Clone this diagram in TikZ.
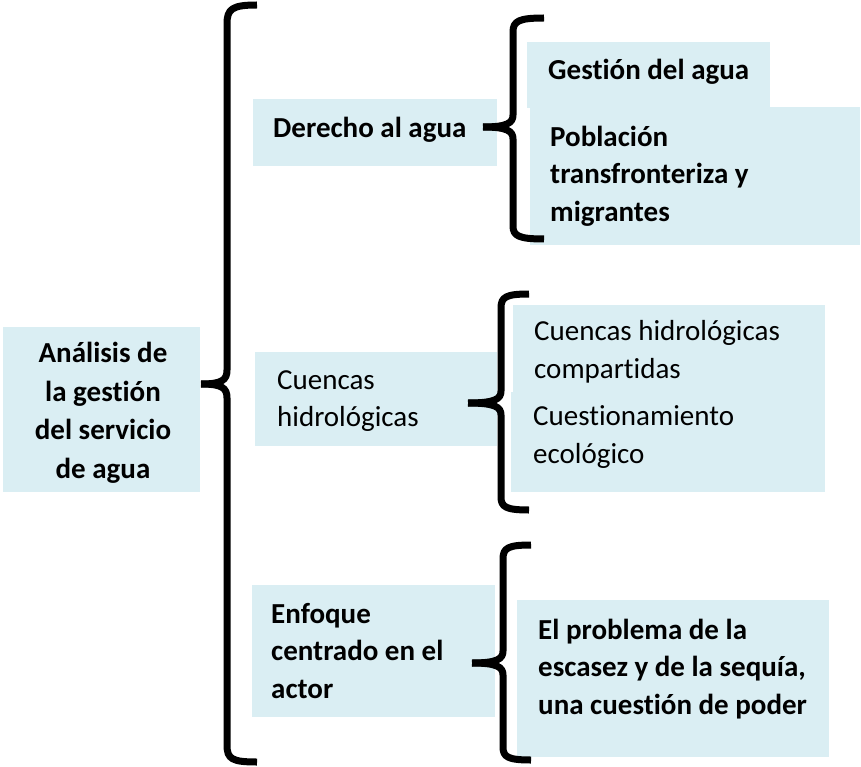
\documentclass[tikz,border=0pt]{standalone}
\usepackage{fontspec}
\setmainfont{Carlito}[Ligatures=NoCommon]
\definecolor{boxblue}{HTML}{DAEEF3}
\begin{document}
\begin{tikzpicture}[x=1pt,y=-1pt,
  txt/.style={anchor=west,align=left,inner sep=0pt,font=\fontsize{29}{37.5}\selectfont},
  txtb/.style={txt,font=\fontsize{29}{37.5}\selectfont\bfseries},
  brace/.style={draw=black,line width=7pt,line join=round}]
\useasboundingbox (0,0) rectangle (861,767);
% boxes
\fill[boxblue] (3,327) rectangle (200,492);
\fill[boxblue] (253,99) rectangle (497,166);
\fill[boxblue] (527,42) rectangle (770,108);
\fill[boxblue] (530,107) rectangle (860,245);
\fill[boxblue] (255,352) rectangle (497,446);
\fill[boxblue] (513,305) rectangle (825,405);
\fill[boxblue] (511,392) rectangle (825,492);
\fill[boxblue] (252,585) rectangle (495,717);
\fill[boxblue] (517,600) rectangle (829,757);
% texts
\node[txtb,anchor=center,align=center,font=\fontsize{29}{38.5}\selectfont\bfseries] (main) at (103,413) {Análisis de\\la gestión\\del servicio\\de agua};
\node[txtb] (der) at (273,130) {Derecho al agua};
\node[txtb] (ges) at (548,72) {Gestión del agua};
\node[txtb] (pob) at (550,176) {Población\\transfronteriza y\\migrantes};
\node[txt] (cue) at (277,401) {Cuencas\\hidrológicas};
\node[txt] (cuec) at (534,352) {Cuencas hidrológicas\\compartidas};
\node[txt] (cues) at (533,437) {Cuestionamiento\\ecológico};
\node[txtb] (enf) at (271,651) {Enfoque\\centrado en el\\actor};
\node[txtb] (prob) at (538,669) {El problema de la\\escasez y de la sequía,\\una cuestión de poder};
% big brace
\coordinate (b1tip) at (201,384);
\draw[brace] (257,5) .. controls (232,5) and (227,9) .. (227,24) -- (227,370) .. controls (227,380) and (222,384) .. (b1tip);
\draw[brace] (b1tip) .. controls (222,384) and (227,388) .. (227,398) -- (227,745) .. controls (227,759) and (232,762) .. (257,762);
% brace 2
\coordinate (b2tip) at (483,127);
\draw[brace] (544,18) .. controls (519,18) and (513,21) .. (513,32) -- (513,115) .. controls (513,123) and (507,127) .. (b2tip);
\draw[brace] (b2tip) .. controls (507,127) and (513,131) .. (513,139) -- (513,226) .. controls (513,236) and (519,239) .. (544,239);
% brace 3
\coordinate (b3tip) at (468,403);
\draw[brace] (529,294) .. controls (506,294) and (501,297) .. (501,308) -- (501,391) .. controls (501,399) and (495,403) .. (b3tip);
\draw[brace] (b3tip) .. controls (495,403) and (501,407) .. (501,415) -- (501,497) .. controls (501,507) and (506,510) .. (529,510);
% brace 4
\coordinate (b4tip) at (472,663);
\draw[brace] (531,545) .. controls (508,545) and (503,548) .. (503,559) -- (503,651) .. controls (503,659) and (497,663) .. (b4tip);
\draw[brace] (b4tip) .. controls (497,663) and (503,667) .. (503,675) -- (503,747) .. controls (503,757) and (508,760) .. (531,760);
\end{tikzpicture}
\end{document}
